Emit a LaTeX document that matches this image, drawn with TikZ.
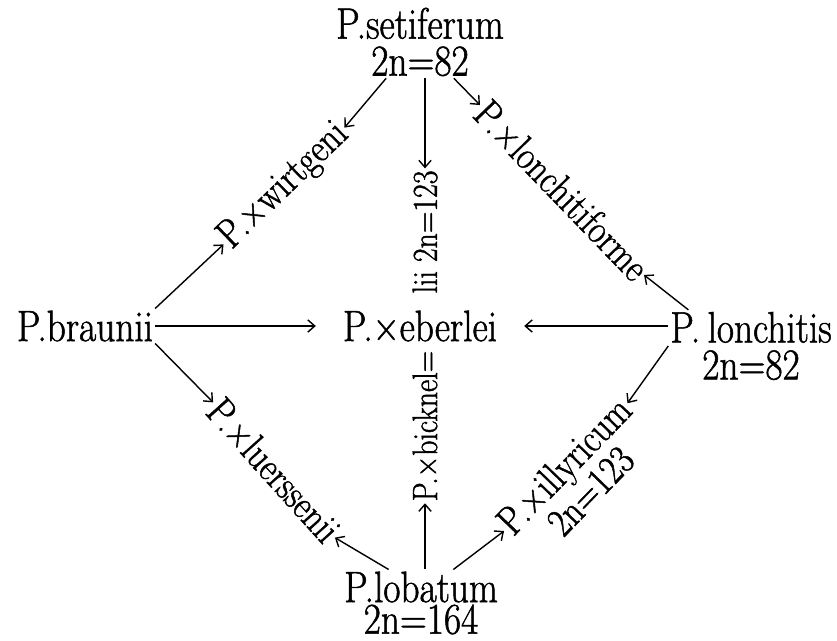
\documentclass[tikz,border=0pt]{standalone}
\usepackage{fontspec}
\setmainfont{Latin Modern Roman}[FakeStretch=0.85, FakeBold=1.2]
\usepackage{tikz}
\usetikzlibrary{arrows.meta, positioning}

\begin{document}
\begin{tikzpicture}[
				x=0.02cm, y=-0.02cm,
				every node/.style={inner sep=1pt},
				taxon/.style={align=center, font=\fontsize{25}{21}\selectfont},
				hybrid/.style={align=center, font=\fontsize{23}{19}\selectfont},
				hybridv/.style={font=\fontsize{20}{20}\selectfont, rotate=90},
				cross/.style={-{Straight Barb[length=4pt, width=7pt]}, line width=0.8pt}
			]
				\useasboundingbox (0,0) rectangle (837,641);
				\node[taxon] (seti) at (420,42) {P.setiferum\\2n=82};
				\node[taxon] (braun) at (85,326) {P.braunii};
				\node[taxon] (lonch) at (751,346) {P.\,lonchitis\\2n=82};
				\node[taxon] (lobat) at (421,603) {P.lobatum\\[-3pt]2n=164};
				\node[taxon] (eberl) at (420,326) {P.×eberlei};
				\node[hybrid, rotate=44] (wirtg) at (284,186) {P.×wirtgeni};
				\node[hybrid, rotate=-46] (lonchf) at (562,190) {P.×lonchitiforme};
				\node[hybrid, rotate=-48] (luers) at (274,470) {P.×luerssenii};
				\node[hybrid, rotate=46] (illyr) at (577,478) {P.×illyricum\\2n=123};
				\node[hybridv] (bickA) at (425,426) {P.×bicknel=};
				\node[hybridv] (bickB) at (425,232) {lii 2n=123};
				\draw[cross] (seti.227) -- (wirtg.east);
				\draw[cross] (bickB.east |- seti.south) -- (bickB.east);
				\draw[cross] (seti.313) -- (lonchf.west);
				\draw[cross] (braun.north east) -- (wirtg.west);
				\draw[cross, shorten >=0.5cm] (braun.east) -- (eberl.west);
				\draw[cross] (braun.south east) -- (luers.west);
				\draw[cross, shorten >=0.5cm] (lonch.west |- eberl.east) -- (eberl.east);
				\draw[cross] (lonch.150) -- (lonchf.east);
				\draw[cross] (lonch.west) -- (illyr.10);
				\draw[cross] (lobat.134) -- (luers.east);
				\draw[cross] (bickA.west |- lobat.north) -- (bickA.west);
				\draw[cross] (lobat.46) -- (illyr.170);
			\end{tikzpicture}
\end{document}
